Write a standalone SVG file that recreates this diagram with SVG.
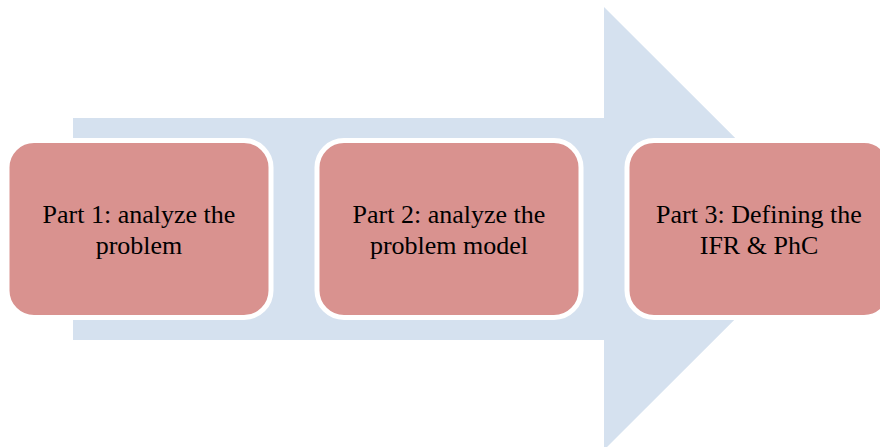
<svg xmlns="http://www.w3.org/2000/svg" width="880" height="447" viewBox="0 0 880 447">
<style>
.box{fill:#D9928F;stroke:#FFFFFF;stroke-width:5}
.lbl{font-family:"Liberation Serif","Times New Roman",serif;font-size:26px;fill:#000;text-anchor:middle}
</style>
<rect width="880" height="447" fill="#FFFFFF"/>
<g id="arrow">
<polygon points="73,118 604,118 604,7 826,228.5 604,450 604,340 73,340" fill="#D5E1EF"/>
</g>
<g id="connectors"></g>
<g id="part1">
<rect class="box" x="7" y="140.5" width="264" height="177" rx="27"/>
<text class="lbl" x="139" y="223">Part 1: analyze the</text>
<text class="lbl" x="139" y="254">problem</text>
</g>
<g id="part2">
<rect class="box" x="317" y="140.5" width="264" height="177" rx="27"/>
<text class="lbl" x="449" y="223">Part 2: analyze the</text>
<text class="lbl" x="449" y="254">problem model</text>
</g>
<g id="part3">
<rect class="box" x="627" y="140.5" width="264" height="177" rx="27"/>
<text class="lbl" x="759" y="223">Part 3: Defining the</text>
<text class="lbl" x="759" y="254">IFR &amp; PhC</text>
</g>
</svg>
